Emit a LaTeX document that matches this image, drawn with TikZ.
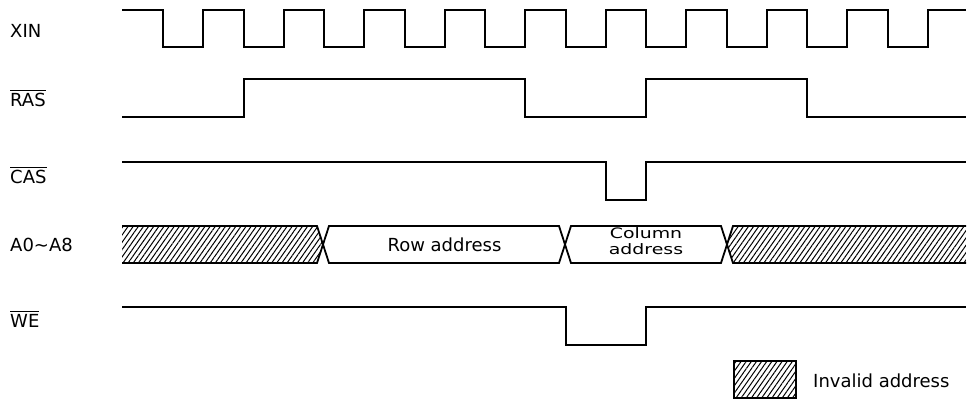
\documentclass[tikz,border=0pt]{standalone}
\usepackage{fontspec}
\setmainfont{DejaVu Sans}
\usetikzlibrary{patterns.meta}
\newcommand\ovl[1]{\leavevmode\vbox{\hrule height 1pt\kern 2pt\hbox{#1}}}
\begin{document}
\begin{tikzpicture}[x=1pt,y=-1pt,
  sig/.style={line width=2pt, line join=miter},
  bus/.style={line width=1.8pt, line join=miter},
  lbl/.style={anchor=base west, inner sep=0pt, font=\fontsize{18}{18}\selectfont},
  txt/.style={anchor=base, inner sep=0pt, font=\fontsize{18}{18}\selectfont},
  hatch/.style={pattern={Lines[angle=55,distance=4.2pt,line width=1pt]}}]
\useasboundingbox (0,0) rectangle (967,402);
% labels
\node[lbl] (lxin) at (10,37) {XIN};
\node[lbl] (lras) at (10,106) {\ovl{RAS}};
\node[lbl] (lcas) at (10,183) {\ovl{CAS}};
\node[lbl] (la) at (10,251) {A0\textasciitilde A8};
\node[lbl] (lwe) at (10,327) {\ovl{WE}};
% XIN clock
\draw[sig] (122,10) foreach \k in {0,...,9} { -- ({163+80.5*\k},10) -- ({163+80.5*\k},47) -- ({203+80.5*\k},47) -- ({203+80.5*\k},10) } -- (966,10);
% RAS
\draw[sig] (122,117) -- (244,117) -- (244,79) -- (524.5,79) -- (524.5,117) -- (646,117) -- (646,79) -- (807,79) -- (807,117) -- (966,117);
% CAS
\draw[sig] (122,162) -- (606,162) -- (606,200) -- (646,200) -- (646,162) -- (966,162);
% WE
\draw[sig] (122,307) -- (566,307) -- (566,345) -- (646,345) -- (646,307) -- (966,307);
% address bus
\fill[hatch] (122,226) -- (317,226) -- (323,244.5) -- (317,263) -- (122,263) -- cycle;
\fill[hatch] (966,226) -- (733,226) -- (727,244.5) -- (733,263) -- (966,263) -- cycle;
\draw[bus] (122,226) -- (317,226) -- (329,263) -- (559,263) -- (571,226) -- (721,226) -- (733,263) -- (966,263);
\draw[bus] (122,263) -- (317,263) -- (329,226) -- (559,226) -- (571,263) -- (721,263) -- (733,226) -- (966,226);
\node[txt] (row) at (444.5,251) {Row address};
\node[txt] (col) at (646,254) {\scalebox{1.05}[0.8]{\begin{tabular}[b]{@{}c@{}}Column\\address\end{tabular}}};
% legend
\draw[bus, hatch] (734,361) rectangle (796,398);
\node[lbl] (inv) at (813,387) {Invalid address};
\end{tikzpicture}
\end{document}
